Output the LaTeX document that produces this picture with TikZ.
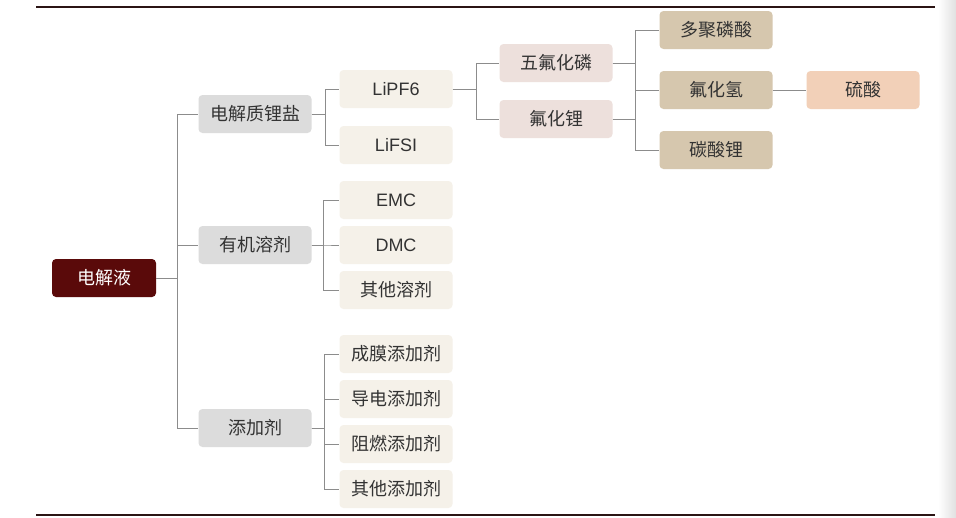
\documentclass[tikz,border=0pt]{standalone}
\usepackage{fontspec}
\setsansfont{Liberation Sans}
\newfontfamily\cjk{Noto Sans CJK SC}
\definecolor{rootred}{HTML}{5A0A0A}
\definecolor{lvlgray}{HTML}{DCDCDC}
\definecolor{cream}{HTML}{F5F1E9}
\definecolor{rosy}{HTML}{EDE0DC}
\definecolor{tan}{HTML}{D6C7AE}
\definecolor{peach}{HTML}{F2D0B8}
\definecolor{linegray}{HTML}{8C8C8C}
\definecolor{txt}{HTML}{333333}
\definecolor{rulecol}{HTML}{2B1414}
\newcommand*{\bw}{113pt}
\newcommand*{\bh}{38pt}
\tikzset{
	box/.style n args={2}{
		rectangle,
		rounded corners = 4pt,
		minimum width = \bw,
		minimum height = \bh,
		inner sep = 0pt,
		fill = #1,
		text = #2,
		font = \cjk\fontsize{18}{18}\selectfont,
		},
	latin/.style={
		font = \sffamily\fontsize{18}{18}\selectfont,
		},
	link/.style={
		draw = linegray,
		line width = 1pt,
		},
	rule/.style={
		draw = rulecol,
		line width = 2.5pt,
		}
	}
\begin{document}
\begin{tikzpicture}[x=1pt,y=-1pt]
	\useasboundingbox (0,0) rectangle (956,517);
	\fill [white] (0,0) rectangle (956,517);
	\shade [left color=white, right color=black!12] (938,0) rectangle (956,517);
	\draw [rule] (36,7)   -- (935,7);
	\draw [rule] (36,515) -- (935,515);
	% main branch
	\node (root) [box={rootred}{white}, minimum width=104pt] at (104,278) {电解液};
	\node (salt) [box={lvlgray}{txt}] at (255,114) {电解质锂盐};
	\node (solv) [box={lvlgray}{txt}] at (255,245) {有机溶剂};
	\node (addi) [box={lvlgray}{txt}] at (255,428) {添加剂};
	% second level
	\node (lipf)  [box={cream}{txt}, latin] at (396,89)  {LiPF6};
	\node (lifsi) [box={cream}{txt}, latin] at (396,145) {LiFSI};
	\foreach \n/\t/\y in {emc/EMC/200, dmc/DMC/245} {
		\node (\n) [box={cream}{txt}, latin] at (396,\y) {\t};
	};
	\node (osolv) [box={cream}{txt}] at (396,290) {其他溶剂};
	\foreach \n/\t/\y in {film/成膜添加剂/354, cond/导电添加剂/399, flam/阻燃添加剂/444, oadd/其他添加剂/489} {
		\node (\n) [box={cream}{txt}] at (396,\y) {\t};
	};
	% decomposition
	\node (pf5) [box={rosy}{txt}] at (556,63)  {五氟化磷};
	\node (lif) [box={rosy}{txt}] at (556,119) {氟化锂};
	\foreach \n/\t/\y in {ppa/多聚磷酸/30, hf/氟化氢/90, lco/碳酸锂/150} {
		\node (\n) [box={tan}{txt}] at (716,\y) {\t};
	};
	\node (hso) [box={peach}{txt}] at (863,90) {硫酸};
	% connectors
	\foreach \c in {salt,solv,addi} {
		\draw [link] (root.east) -- ++(21,0) |- (\c.west);
	};
	\foreach \c in {lipf,lifsi} {
		\draw [link] (salt.east) -- ++(14,0) |- (\c.west);
	};
	\foreach \c in {emc,dmc,osolv} {
		\draw [link] (solv.east) -- ++(12,0) |- (\c.west);
	};
	\foreach \c in {film,cond,flam,oadd} {
		\draw [link] (addi.east) -- ++(13,0) |- (\c.west);
	};
	\foreach \c in {pf5,lif} {
		\draw [link] (lipf.east) -- ++(24,0) |- (\c.west);
	};
	\foreach \s/\c in {pf5/ppa, pf5/hf, lif/hf, lif/lco} {
		\draw [link] (\s.east) -- ++(23,0) |- (\c.west);
	};
	\draw [link] (hf) -- (hso);
\end{tikzpicture}
\end{document}
